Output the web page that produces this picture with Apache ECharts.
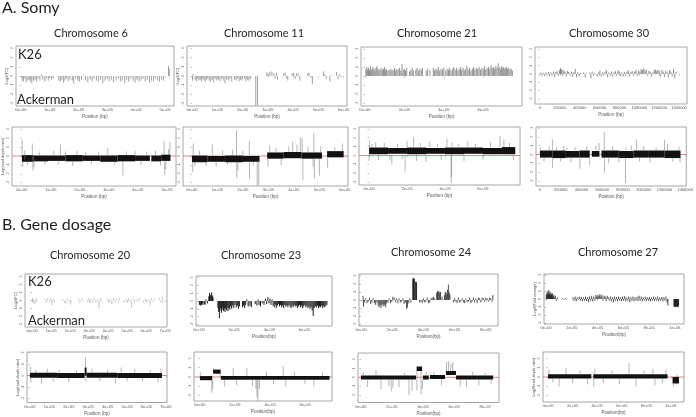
<!DOCTYPE html>
<html>
<head>
<meta charset="utf-8">
<script src="https://cdn.jsdelivr.net/npm/echarts@6/dist/echarts.min.js"></script>
<style>
html, body { margin: 0; padding: 0; background: #fff; }
#main { width: 696px; height: 417px; }
</style>
</head>
<body>
<div id="main"></div>
<script>

// ---- A. Somy : log2 fold change per gene ----
var chr6Fc = [[4,-0.5],[9,-0.6],[14,-0.3],[18,-0.7],[24,-0.5],[29,-0.4],[33,-0.6],[38,-0.8],[44,-0.5],[49,-0.4],[54,-0.6],[60,-0.3],[66,-0.5],[71,0.15],[76,-0.4],[83,-0.6],[88,-0.3],[95,-0.5],[100,-0.2],[106,-0.4],[112,-0.3],[131,-0.5],[137,-0.6],[142,-0.4],[148,-0.7],[153,-0.5],[158,-0.3],[164,-0.6],[170,-0.4],[178,-0.5],[183,-0.8],[190,-0.3],[197,-0.5],[203,-0.6],[210,-0.4],[218,0.1],[224,-0.5],[232,-0.7],[240,-0.4],[247,-0.6],[254,-0.3],[262,-0.5],[270,-0.6],[277,-0.4],[284,-0.8],[292,-0.5],[299,-0.3],[306,-0.6],[314,-0.4],[321,-0.7],[330,-0.5],[338,-0.3],[345,-0.6],[352,-0.5],[360,-0.8],[367,-0.4],[374,-0.6],[381,-0.3],[389,-0.5],[396,-0.7],[403,-0.4],[410,-0.6],[417,-0.5],[424,-0.3],[431,-0.6],[438,-0.4],[446,-0.7],[453,-0.5],[460,-0.6],[467,-0.3],[474,-0.5],[481,-0.6],[488,-0.4],[495,-0.5],[512,1.1],[515,0.8]];
var chr11Fc = [[2,-0.5],[4,0.2],[12,-0.4],[17,-0.6],[22,-0.3],[27,-0.5],[32,-0.4],[37,-0.6],[42,-0.3],[47,-0.5],[52,-0.6],[57,-0.4],[62,-0.3],[68,-0.5],[74,-0.6],[80,-0.4],[86,-0.7],[92,-0.3],[98,-0.5],[104,-0.4],[110,-0.6],[117,-0.3],[123,-0.5],[130,-0.8],[137,-0.4],[144,-0.5],[150,-0.3],[157,-0.6],[168,-0.4],[174,-0.5],[180,-0.3],[186,-0.6],[192,-0.4],[198,-0.5],[208,-0.3],[213,-0.6],[219,-0.4],[225,-0.5],[231,-0.3],[252,-3.2],[259,-3.2],[296,0.4],[301,0.3],[308,0.45],[316,0.5],[324,0.3],[329,-0.3],[334,0.35],[338,-0.4],[363,0.3],[368,0.4],[374,-0.3],[379,-0.5],[396,0.3],[402,0.35],[408,-0.3],[414,0.3],[420,0.25],[426,-0.5],[458,0.3],[463,0.35],[470,-0.2],[476,-0.9],[520,0.5],[526,0.2],[531,-0.3],[545,-0.6],[552,0.1],[572,0.45],[578,-0.3],[584,0.2],[590,-0.1]];
var chr21Fc = [[5,0.8],[9,1.0],[14,0.7],[18,0.9],[23,0.6],[27,1.1],[32,0.8],[36,0.7],[41,1.0],[46,0.8],[51,0.6],[56,0.9],[61,1.1],[66,0.7],[71,0.8],[77,0.6],[82,0.9],[88,0.7],[94,0.8],[99,1.0],[105,0.7],[110,0.8],[117,0.6],[123,0.7],[131,0.8],[137,0.6],[143,0.7],[150,0.9],[156,0.6],[162,0.8],[168,0.7],[175,0.9],[182,0.6],[188,1.3],[194,0.7],[200,0.8],[206,0.6],[212,0.9],[226,0.5],[233,0.7],[240,0.9],[246,0.6],[258,0.7],[264,0.9],[271,0.6],[278,0.8],[286,0.7],[292,0.9],[311,0.6],[318,0.8],[330,0.7],[347,0.9],[353,0.6],[360,0.8],[366,0.7],[372,1.0],[379,0.6],[386,0.8],[393,0.7],[400,0.9],[410,0.6],[417,0.8],[424,0.7],[430,0.9],[437,0.6],[444,0.8],[451,1.0],[458,0.7],[465,0.9],[472,0.6],[478,0.8],[485,1.0],[491,0.7],[498,0.9],[504,0.6],[511,0.8],[518,1.1],[524,0.7],[531,0.9],[538,0.6],[545,0.8],[551,1.0],[558,0.7],[565,0.9],[572,0.8],[579,1.0],[586,0.7],[593,0.9],[600,0.8],[607,1.1],[613,0.7],[620,0.9],[627,1.0],[633,0.8],[640,1.2],[646,0.9],[652,1.0],[658,0.8],[664,1.1],[670,0.9],[676,1.4],[681,1.0],[687,0.8],[692,1.1],[697,0.9],[702,1.0],[707,0.8],[712,0.9],[718,1.0],[724,0.8],[730,0.9],[736,0.7],[742,0.8],[748,0.6]];
var chr30Fc = [[10,0.2],[22,-0.2],[35,0.15],[48,-0.25],[60,0.2],[72,-0.15],[85,0.25],[97,-0.3],[110,0.2],[122,-0.2],[135,0.3],[148,-0.4],[160,0.25],[172,0.35],[185,-0.2],[198,0.5],[206,0.7],[214,0.6],[222,0.5],[230,-0.2],[240,0.45],[252,0.3],[265,-0.3],[278,0.4],[290,0.25],[303,-0.2],[316,0.3],[329,-0.35],[342,0.2],[355,0.6],[368,-0.4],[381,0.2],[394,-0.25],[407,0.15],[440,0.2],[455,-0.4],[470,0.1],[500,0.2],[512,-0.5],[525,0.3],[538,-0.2],[551,0.15],[575,-0.3],[590,0.2],[603,0.4],[616,-0.3],[629,0.2],[642,-0.2],[655,0.25],[668,0.5],[681,-0.4],[694,0.2],[707,-0.2],[720,0.3],[733,-0.3],[746,0.2],[759,0.35],[772,-0.2],[785,0.45],[798,0.3],[811,-0.25],[824,0.2],[837,-0.3],[850,0.25],[863,-0.2],[876,0.3],[889,0.45],[902,-0.3],[915,0.2],[928,0.35],[941,-0.2],[954,0.3],[967,0.5],[980,-0.25],[993,0.4],[1006,0.3],[1019,0.6],[1032,0.5],[1045,0.7],[1058,0.4],[1071,0.55],[1084,-0.2],[1097,0.4],[1110,0.3],[1123,-0.3],[1136,0.2],[1149,0.45],[1162,0.55],[1175,0.35],[1188,0.5],[1201,0.4],[1214,-0.3],[1227,0.5],[1240,0.3],[1253,-0.35],[1266,0.4],[1279,0.2],[1292,-0.4],[1305,0.5],[1318,0.3],[1331,-0.3],[1344,0.6],[1357,-0.5],[1370,0.3]];

// ---- A. Somy : read depth ratio, [start, end, low, high] blocks and [pos, from, to] spikes ----
var chr6Blocks = [[0,40,-0.65,0.1],[40,90,-0.6,0.05],[90,150,-0.55,0.05],[150,210,-0.6,0.1],[210,270,-0.55,0.05],[270,330,-0.65,0.05],[330,390,-0.6,0.1],[390,441,-0.55,0.05],[446,480,-0.6,0.05],[480,512,-0.55,0.15]];
var chr6Spikes = [[1,0,1.8],[3,-0.6,-1.2],[10,-0.5,0.6],[20,-0.6,-1.0],[36,-0.5,1.4],[38,-0.6,-1.6],[42,-0.6,-1.3],[60,0.1,0.5],[80,-0.6,-1.0],[110,0.1,0.6],[125,-0.6,-1.0],[133,0.1,1.3],[150,0.1,0.5],[175,-0.6,-1.1],[190,0.1,0.6],[220,0.1,0.4],[240,-0.6,-0.9],[265,0.1,0.5],[296,0.1,0.9],[320,-0.6,-1.0],[348,-0.6,-2.2],[360,0.1,0.5],[390,0.1,0.6],[410,-0.6,-1.0],[430,0.1,0.5],[460,0.1,0.6],[478,-0.6,-1.1],[490,0.1,1.7],[492,-0.6,-2.1],[496,-0.6,-1.5],[505,0.1,0.8],[510,0.1,1.6]];
var chr11Blocks = [[0,60,-0.7,0.05],[60,130,-0.65,0.0],[130,200,-0.7,0.05],[200,265,-0.65,0.0],[295,360,-0.3,0.4],[360,430,-0.25,0.45],[430,510,-0.3,0.4],[530,595,-0.15,0.55]];
var chr11Spikes = [[3,-0.7,-1.8],[5,0.1,1.4],[12,-0.7,-1.2],[30,0.1,0.6],[55,-0.7,-1.1],[80,0.1,1.3],[95,-0.7,-1.2],[120,0.1,0.6],[140,-0.7,-1.0],[160,0.1,0.7],[175,0.1,2.9],[176,-0.7,-2.5],[180,-0.7,-1.6],[200,0.1,0.6],[225,0.1,1.7],[226,-0.7,-2.6],[240,-0.7,-1.1],[256,-0.5,-3.3],[262,-0.5,-3.3],[298,-0.35,-1.2],[305,0.45,1.2],[330,0.45,0.9],[350,-0.35,-1.0],[380,0.45,1.1],[395,0.45,1.6],[412,0.45,1.3],[425,0.5,2.1],[432,0.45,2.0],[435,-0.35,-2.7],[455,0.45,1.0],[475,-0.35,-1.2],[478,0.45,2.6],[480,-0.35,-2.6],[500,-0.35,-2.2],[505,0.45,1.1],[532,-0.2,-1.3],[560,0.6,1.0],[590,0.6,1.4]];
var chr21Blocks = [[0,100,0.15,0.9],[100,200,0.2,0.85],[200,300,0.15,0.9],[300,400,0.2,0.85],[400,500,0.15,0.9],[500,600,0.2,0.9],[600,700,0.15,0.85],[700,770,0.15,0.95]];
var chr21Spikes = [[0,0.1,-0.6],[2,0.95,1.7],[15,0.95,1.3],[35,0.95,1.5],[50,0.1,-0.5],[80,0.95,1.4],[110,0.1,-0.5],[120,0.1,-1.0],[150,0.95,1.3],[175,0.1,-0.4],[190,0.1,-1.8],[200,0.95,1.6],[235,0.95,2.1],[250,0.1,-0.6],[270,0.95,1.4],[300,0.1,-0.7],[320,0.95,1.6],[360,0.95,1.3],[380,0.1,-0.5],[410,0.95,1.9],[432,0.1,-3.1],[434,0.1,-2.4],[436,0.95,1.5],[470,0.95,1.3],[500,0.1,-0.6],[520,0.95,1.6],[560,0.95,1.3],[600,0.1,-0.5],[640,0.95,1.5],[690,0.95,2.2],[710,0.95,1.8],[740,0.95,1.4],[760,0.1,-0.5]];
var chr30Blocks = [[0,120,-0.35,0.45],[120,250,-0.4,0.45],[250,380,-0.35,0.4],[380,480,-0.35,0.45],[500,573,-0.25,0.4],[593,760,-0.35,0.45],[760,900,-0.4,0.4],[900,1050,-0.35,0.45],[1050,1200,-0.35,0.45],[1200,1355,-0.4,0.45]];
var chr30Spikes = [[5,0.5,0.8],[40,-0.4,-0.8],[90,0.5,0.9],[120,0.5,1.7],[122,-0.4,-1.5],[160,0.5,0.8],[200,-0.4,-0.8],[230,0.5,1.0],[260,0.5,0.8],[300,-0.4,-0.9],[340,0.5,0.8],[385,-0.4,-1.6],[450,0.5,0.9],[480,-0.4,-1.2],[540,0.5,1.0],[570,0.5,1.3],[620,0.5,2.5],[622,-0.4,-2.1],[660,-0.4,-1.0],[700,0.5,0.9],[760,-0.4,-0.9],[824,-0.4,-3.2],[830,0.5,0.8],[880,0.5,1.0],[930,0.5,1.7],[960,-0.4,-0.8],[1000,0.5,0.9],[1060,-0.4,-0.9],[1120,0.5,0.8],[1200,0.5,1.6],[1230,0.5,1.2],[1280,-0.4,-0.8],[1340,0.5,0.9],[1350,-0.4,-0.9]];

// ---- B. Gene dosage : log2 fold change per gene ----
var chr20Fc = [[2,0.3],[6,-0.3],[10,0.2],[15,-0.5],[22,0.3],[26,-0.2],[70,0.2],[76,-0.3],[82,0.3],[90,-0.2],[98,0.25],[105,-0.6],[112,0.2],[118,-0.3],[162,0.2],[170,-0.3],[178,-0.4],[186,0.25],[195,-0.2],[204,-0.5],[245,0.2],[252,-0.3],[262,0.3],[292,-0.2],[298,0.25],[305,-0.35],[312,0.2],[320,-0.3],[328,0.3],[336,-0.25],[344,0.2],[352,-1.0],[360,0.3],[368,-0.2],[398,0.25],[405,-0.3],[412,0.2],[420,-0.5],[428,0.3],[436,-0.2],[444,0.2],[452,-0.35],[460,0.25],[484,-0.3],[492,0.2],[500,-0.25],[508,0.3],[516,-0.2],[524,-0.9],[532,0.25],[540,-0.3],[548,0.2],[556,-0.2],[564,0.3],[588,-0.3],[596,0.25],[604,-0.2],[612,0.2],[620,-0.6],[628,0.3],[636,-0.2],[644,0.25],[668,0.3],[676,-0.25],[684,0.5],[688,-0.3]];
var chr23Fc = [[2,-0.5],[6,-0.4],[10,-0.6],[14,-0.5],[18,-0.3],[22,-0.5],[30,-0.4],[35,-0.5],[40,0.2],[48,-0.3],[56,0.6],[60,1.0],[64,0.8],[68,0.6],[72,1.1],[76,0.7],[80,0.5],[108,-0.9],[112,-1.4],[116,-2.2],[120,-1.2],[124,-0.9],[128,-1.5],[132,-1.1],[136,-0.8],[140,-1.3],[144,-1.0],[148,-1.4],[152,-0.9],[156,-1.2],[160,-0.8],[165,-1.3],[170,-0.9],[175,-1.1],[180,-0.7],[186,-1.0],[192,-0.6],[198,-0.9],[205,-0.5],[212,-0.8],[218,-0.6],[224,-1.0],[230,-0.7],[248,-0.8],[254,-0.6],[260,-0.9],[266,-0.5],[272,0.2],[280,-0.7],[290,-0.6],[298,-0.8],[320,-0.4],[330,-0.6],[336,0.2],[342,-0.5],[350,-0.7],[360,-0.3],[370,-0.5],[378,0.3],[385,-0.4],[392,0.5],[398,-0.3],[404,0.3],[410,-0.5],[416,0.2],[422,-0.6],[428,-0.8],[434,-0.5],[440,-0.9],[446,-0.6],[452,-0.4],[458,-0.7],[464,-0.5],[470,-0.8],[476,-0.6],[482,-0.9],[488,-0.5],[494,-0.7],[500,-0.6],[506,-0.8],[512,-0.5],[518,-0.7],[524,-0.9],[530,-0.6],[536,-0.8],[542,-0.5],[548,-0.7],[554,-0.6],[560,-0.9],[566,-0.7],[572,-0.5],[578,-0.8],[584,-0.6],[590,-0.9],[596,-0.7],[602,-0.5],[608,-0.8],[614,-0.6],[620,-0.9],[626,-0.7],[632,-1.0],[638,-0.8],[644,-1.2],[650,-1.9],[656,-0.9],[662,-0.7],[668,-0.8],[674,-0.6],[680,-0.9],[686,-0.7],[692,-0.8],[698,-0.6],[704,-0.9],[710,-0.7],[716,-0.8],[722,-0.6],[728,-0.5]];
var chr24Fc = [[13,0.5],[16,-0.8],[22,-0.3],[30,0.2],[38,-0.4],[46,-0.2],[54,0.3],[62,-0.5],[70,-0.3],[78,0.2],[86,-0.4],[94,-0.6],[102,-0.3],[110,-0.7],[116,-0.9],[122,-0.6],[128,-1.0],[134,-0.7],[140,-0.5],[146,-0.8],[152,-0.6],[158,-0.9],[164,-0.4],[172,-0.3],[180,0.2],[188,-0.4],[196,-0.2],[204,0.4],[212,0.3],[220,-0.3],[228,0.2],[236,-0.4],[244,0.2],[252,-0.3],[260,-0.2],[268,0.2],[276,-0.5],[284,-0.3],[292,-1.1],[298,-0.9],[306,-0.4],[312,0.2],[320,-0.3],[332,2.6],[334,2.7],[336,2.6],[338,2.5],[340,2.7],[342,2.6],[350,2.2],[352,2.3],[354,2.2],[356,2.1],[376,-0.3],[384,-0.2],[392,-0.4],[400,0.2],[408,-0.3],[416,-0.2],[424,0.3],[432,-0.4],[440,-0.3],[448,0.2],[456,0.3],[464,0.4],[472,0.2],[485,0.9],[490,1.1],[495,1.0],[500,1.1],[505,0.9],[510,1.0],[520,0.4],[535,0.6],[540,1.0],[545,0.9],[550,0.8],[555,1.3],[560,1.9],[565,1.0],[570,0.7],[592,-0.3],[600,0.2],[608,-0.2],[616,-0.4],[624,0.3],[632,-0.3],[640,-0.2],[648,0.2],[656,-0.3],[664,-0.4],[672,0.2],[680,-0.3],[688,-0.2],[696,0.3],[704,-0.4],[712,-0.2],[720,0.3],[728,-0.3],[736,0.2],[744,-0.4],[752,0.3],[760,0.2],[768,-0.3],[776,0.3],[784,0.2],[792,-0.2],[800,0.3],[808,0.2],[816,-0.2],[824,0.3],[832,0.2],[840,-0.2],[845,0.6]];
var chr27Fc = [[2,0.5],[6,0.8],[10,0.6],[14,1.0],[18,0.7],[22,1.1],[26,0.6],[30,0.9],[34,0.5],[38,0.8],[42,0.6],[46,0.4],[50,0.7],[55,0.3],[60,0.5],[66,0.2],[72,0.4],[80,-0.2],[90,0.2],[130,0.1],[140,-0.1],[150,0.1],[160,-0.1],[210,0.2],[218,-0.2],[226,0.3],[234,-0.3],[242,0.2],[250,-0.1],[258,0.3],[266,-0.2],[274,0.25],[282,-0.3],[290,0.2],[298,-0.2],[306,0.3],[314,-0.25],[322,0.2],[330,-0.4],[338,0.3],[346,-0.2],[354,0.4],[362,-0.3],[370,0.3],[378,-0.2],[386,0.5],[394,0.3],[402,0.5],[410,0.4],[418,0.6],[426,0.3],[434,0.5],[442,-0.2],[450,0.4],[458,0.3],[466,-0.3],[474,0.4],[482,0.2],[490,-0.2],[498,0.3],[506,-0.3],[514,0.2],[522,-0.4],[530,0.3],[538,-0.2],[546,0.25],[554,-0.3],[562,0.3],[570,-0.2],[578,0.2],[586,-0.25],[594,0.3],[602,-0.2],[610,0.35],[618,-0.3],[626,0.2],[634,-0.2],[642,0.3],[650,-0.4],[658,0.2],[666,-0.2],[674,0.3],[682,-0.3],[690,0.2],[698,-0.2],[706,0.3],[714,-0.25],[722,0.4],[730,-0.2],[738,0.3],[746,-0.3],[754,0.2],[762,-0.2],[770,0.3],[778,-0.3],[786,0.2],[794,-0.2],[802,0.25],[810,-0.3],[818,0.2],[826,-0.2],[834,0.3],[842,-0.25],[850,0.2],[858,-0.2],[866,0.3],[874,-0.3],[882,0.2],[890,-0.2],[898,0.25],[906,-0.3],[914,0.2],[922,-0.2],[930,0.3],[938,-0.4],[945,-0.8],[992,-0.9],[995,-1.0],[998,-0.8],[1001,-1.0],[1004,-0.9],[1007,-1.0],[1010,-0.8],[1013,-1.0],[1016,-0.9],[1019,-1.0],[1022,-0.9],[1025,-1.0],[1028,-0.8]];

// ---- B. Gene dosage : read depth ratio ----
var chr20Blocks = [[0,140,-0.2,0.25],[140,282,-0.22,0.22],[282,292,0.0,0.7],[292,450,-0.2,0.25],[450,680,-0.22,0.22]];
var chr20Spikes = [[2,0.25,0.8],[5,-0.2,-0.6],[30,0.25,0.5],[60,-0.2,-0.7],[90,0.25,0.6],[120,-0.2,-0.5],[150,0.25,0.5],[200,-0.2,-0.6],[240,0.25,0.5],[286,0.7,1.55],[288,0.0,-0.6],[320,0.25,0.6],[360,-0.2,-0.5],[400,0.25,0.5],[440,-0.2,-0.7],[470,0.25,0.7],[500,-0.2,-0.5],[540,0.25,0.6],[580,-0.2,-0.5],[620,0.25,0.5],[660,-0.2,-0.6],[675,0.25,0.6]];
var chr23Blocks = [[0,70,-0.35,0.1],[75,118,0.35,0.8],[120,740,-0.3,0.1]];
var chr23Spikes = [[2,0.1,0.5],[68,-0.35,-1.7],[73,-0.3,-1.3],[78,0.8,1.0],[116,0.35,-0.2],[140,-0.3,-1.0],[190,0.1,1.0],[210,-0.3,-0.9],[268,0.1,1.0],[300,-0.3,-1.0],[320,-0.3,-1.3],[326,-0.3,-2.2],[331,-0.3,-2.7],[340,-0.3,-1.3],[380,0.1,0.6],[420,-0.3,-0.8],[475,0.1,1.2],[490,-0.3,-1.0],[540,0.1,0.5],[600,-0.3,-0.8],[650,-0.3,-1.0],[700,0.1,0.5]];
var chr24Blocks = [[0,355,-0.25,0.2],[359,394,0.7,1.2],[400,437,-0.25,0.2],[445,542,-0.2,0.25],[548,613,0.25,0.7],[613,852,-0.25,0.2]];
var chr24Spikes = [[15,0.2,0.6],[43,-0.25,-1.1],[97,0.2,0.8],[129,-0.25,-1.3],[180,-0.25,-1.0],[195,-0.25,-1.6],[206,-0.25,-1.2],[245,-0.25,-1.1],[280,0.2,0.5],[310,-0.25,-2.0],[329,-0.25,-1.5],[361,0.7,-1.5],[387,0.7,-1.9],[396,-0.25,-1.3],[420,0.2,0.6],[470,0.25,0.6],[520,-0.2,-0.9],[552,0.7,1.7],[565,0.7,1.8],[580,0.7,1.5],[592,0.7,1.7],[640,-0.25,-1.0],[680,-0.25,-1.1],[720,0.2,0.6],[760,-0.25,-0.9],[800,0.2,0.5],[840,-0.25,-0.7]];
var chr27Blocks = [[0,352,-0.15,0.3],[368,972,-0.15,0.3],[1013,1065,-0.7,0.0]];
var chr27Spikes = [[8,0.3,0.8],[40,-0.15,-0.6],[90,-0.15,-1.0],[146,0.3,1.0],[200,-0.15,-0.7],[260,0.3,0.7],[320,-0.15,-0.8],[372,-0.15,-1.1],[380,0.3,0.9],[450,-0.15,-0.7],[520,0.3,0.7],[580,-0.15,-0.8],[659,0.3,1.5],[715,-0.15,-1.0],[780,0.3,0.7],[853,0.3,0.9],[870,-0.15,-0.9],[930,-0.15,-0.7],[960,0.3,0.8],[1020,-0.7,-1.1],[1050,0.0,0.3]];

// ---- tick values (kb) and labels ----
var ticks6 = [0,100,200,300,400,500];
var labels6 = ['0e+00','1e+05','2e+05','3e+05','4e+05','5e+05'];
var ticks11 = [0,100,200,300,400,500,600];
var labels11 = ['0e+00','1e+05','2e+05','3e+05','4e+05','5e+05','6e+05'];
var ticks21 = [0,200,400,600];
var labels21 = ['0e+00','2e+05','4e+05','6e+05'];
var ticks30 = [0,200,400,600,800,1000,1200,1400];
var labels30 = ['0','200000','400000','600000','800000','1000000','1200000','1400000'];
var ticks20 = [0,100,200,300,400,500,600,700];
var labels20 = ['0e+00','1e+05','2e+05','3e+05','4e+05','5e+05','6e+05','7e+05'];
var ticks23 = [0,200,400,600];
var labels23 = ['0e+00','2e+05','4e+05','6e+05'];
var ticks24 = [0,200,400,600,800];
var labels24 = ['0e+00','2e+05','4e+05','6e+05','8e+05'];
var ticks27 = [0,200,400,600,800,1000];
var labels27 = ['0e+00','2e+05','4e+05','6e+05','8e+05','1e+06'];
var yTicksFc = [-3,-2,-1,0,1,2,3];
var yTicksDepthA = [-3,-2,-1,0,1,2,3];
var yTicksDepthB = [-2,-1,0,1,2];

var FONT = 'Lato, "Open Sans", sans-serif';

var panels = [
  // A. Somy, fold change row
  {box:[16,46,158,60], x:[-17,531], y:[-3.25,3.25], xt:ticks6, xl:labels6, yt:yTicksFc, xname:'Position (bp)', yname:'Log2(FC)', fc:chr6Fc, color:'#8a8a8a', lw:0.8},
  {box:[187,46,160,60], x:[-20,613], y:[-3.25,3.25], xt:ticks11, xl:labels11, yt:yTicksFc, xname:'Position (bp)', yname:'Log2(FC)', fc:chr11Fc, color:'#8a8a8a', lw:0.8},
  {box:[361,47,161,59], x:[-20,797], y:[-3.3,3.2], xt:ticks21, xl:labels21, yt:yTicksFc, xname:'Position (bp)', yname:'', fc:chr21Fc, color:'#757575', lw:0.8},
  {box:[535,47,152,57], x:[-50,1480], y:[-3.6,3.25], xt:ticks30, xl:labels30, yt:yTicksFc, xname:'Position (bp)', yname:'', fc:chr30Fc, color:'#5a5a5a', lw:0.7},
  // A. Somy, read depth row
  {box:[12,127,164,59], x:[-34,531], y:[-3.37,3.26], xt:ticks6, xl:labels6, yt:yTicksDepthA, xname:'Position (bp)', yname:'Log(read depth ratio)', blocks:chr6Blocks, spikes:chr6Spikes},
  {box:[183,127,165,59], x:[-35,612], y:[-3.37,3.26], xt:ticks11, xl:labels11, yt:yTicksDepthA, xname:'Position (bp)', yname:'', blocks:chr11Blocks, spikes:chr11Spikes},
  {box:[359,127,161,58], x:[-53,795], y:[-3.3,3.2], xt:ticks21, xl:labels21, yt:yTicksDepthA, xname:'Position (bp)', yname:'', blocks:chr21Blocks, spikes:chr21Spikes},
  {box:[536,127,153,59], x:[-38,1410], y:[-3.55,3.1], xt:ticks30, xl:labels30, yt:yTicksDepthA, xname:'Position (bp)', yname:'', blocks:chr30Blocks, spikes:chr30Spikes},
  // B. Gene dosage, fold change row
  {box:[25,274,142,53], x:[-37,710], y:[-3.3,3.3], xt:ticks20, xl:labels20, yt:yTicksFc, xname:'Position (bp)', yname:'Log2(FC)', fc:chr20Fc, color:'#ababab', lw:0.7},
  {box:[196,276,136,50], x:[-17,757], y:[-3.2,3.2], xt:ticks23, xl:labels23, yt:yTicksFc, xname:'Position(bp)', yname:'', fc:chr23Fc, color:'#1a1a1a', lw:1.0},
  {box:[359,274,139,52], x:[-13,878], y:[-3.2,3.2], xt:ticks24, xl:labels24, yt:yTicksFc, xname:'Position(bp)', yname:'', fc:chr24Fc, color:'#222', lw:0.8},
  {box:[544,274,140,50], x:[-16,1070], y:[-3.1,3.1], xt:ticks27, xl:labels27, yt:yTicksFc, xname:'Position(bp)', yname:'Log2(Fold change)', fc:chr27Fc, color:'#1a1a1a', lw:0.8},
  // B. Gene dosage, read depth row
  {box:[27,352,140,51], x:[-15,706], y:[-2.35,2.05], xt:ticks20, xl:labels20, yt:yTicksDepthB, xname:'Position (bp)', yname:'Log(read depth ratio)', blocks:chr20Blocks, spikes:chr20Spikes},
  {box:[194,352,138,49], x:[-34,754], y:[-2.6,2.7], xt:ticks23, xl:labels23, yt:yTicksDepthB, xname:'Position(bp)', yname:'', blocks:chr23Blocks, spikes:chr23Spikes},
  {box:[358,353,141,51], x:[-19,890], y:[-2.8,2.7], xt:ticks24, xl:labels24, yt:yTicksDepthB, xname:'Position(bp)', yname:'', blocks:chr24Blocks, spikes:chr24Spikes},
  {box:[543,352,141,50], x:[-41,1106], y:[-2.7,2.7], xt:ticks27, xl:labels27, yt:yTicksDepthB, xname:'Position(bp)', yname:'Log(Read depth ratio)', blocks:chr27Blocks, spikes:chr27Spikes}
];

function fcRenderer(color, lw) {
  return function (params, api) {
    var a = api.coord([api.value(0), 0]);
    var b = api.coord([api.value(0), api.value(1)]);
    return {type: 'line', shape: {x1: a[0], y1: a[1], x2: b[0], y2: b[1]}, style: {stroke: color, lineWidth: lw}};
  };
}
function blockRenderer(params, api) {
  var a = api.coord([api.value(0), api.value(3)]);
  var b = api.coord([api.value(1), api.value(2)]);
  return {type: 'rect', shape: {x: a[0], y: a[1], width: Math.max(b[0] - a[0], 1), height: b[1] - a[1]},
    style: {fill: '#111'}};
}
function spikeRenderer(params, api) {
  var a = api.coord([api.value(0), api.value(1)]);
  var b = api.coord([api.value(0), api.value(2)]);
  return {type: 'line', shape: {x1: a[0], y1: a[1], x2: b[0], y2: b[1]}, style: {stroke: '#6a6a6a', lineWidth: 0.5}};
}

var grids = [], xAxes = [], yAxes = [], series = [];
panels.forEach(function (p, i) {
  grids.push({left: p.box[0], top: p.box[1], width: p.box[2], height: p.box[3], show: true,
    borderColor: '#8f8f8f', borderWidth: 0.8, backgroundColor: 'transparent'});
  xAxes.push({type: 'value', gridIndex: i, min: p.x[0], max: p.x[1],
    axisLine: {show: false}, splitLine: {show: false},
    axisTick: {show: true, customValues: p.xt, length: 1.5, lineStyle: {color: '#777', width: 0.5}},
    axisLabel: {show: true, customValues: p.xt, fontSize: 4, color: '#555', margin: 2, fontFamily: 'Arial',
      formatter: (function (t, l) { return function (v) { var k = t.indexOf(v); return k >= 0 ? l[k] : ''; }; })(p.xt, p.xl)},
    name: p.xname, nameLocation: 'middle', nameGap: 8.5, nameTextStyle: {fontSize: 4.5, color: '#555', fontFamily: 'Arial'}});
  yAxes.push({type: 'value', gridIndex: i, min: p.y[0], max: p.y[1],
    axisLine: {show: false}, splitLine: {show: false},
    axisTick: {show: true, customValues: p.yt, length: 1.5, lineStyle: {color: '#777', width: 0.5}},
    axisLabel: {show: true, customValues: p.yt, fontSize: 3.5, color: '#666', margin: 2, rotate: 90, fontFamily: 'Arial'},
    name: p.yname, nameLocation: 'middle', nameGap: 7, nameRotate: 90,
    nameTextStyle: {fontSize: 4, color: '#555', fontFamily: 'Arial'}});
  if (p.fc) {
    series.push({type: 'custom', xAxisIndex: i, yAxisIndex: i, clip: true, silent: true,
      renderItem: fcRenderer(p.color, p.lw), data: p.fc});
  } else {
    series.push({type: 'line', xAxisIndex: i, yAxisIndex: i, z: 1, silent: true, symbol: 'none',
      lineStyle: {color: '#e06666', width: 0.8}, data: [[p.x[0], 0], [p.x[1], 0]]});
    series.push({type: 'custom', xAxisIndex: i, yAxisIndex: i, z: 3, clip: true, silent: true,
      renderItem: spikeRenderer, data: p.spikes});
    series.push({type: 'custom', xAxisIndex: i, yAxisIndex: i, z: 2, clip: true, silent: true,
      renderItem: blockRenderer, data: p.blocks});
  }
});

function txt(s, x, y, size, align) {
  return {type: 'text', x: x, y: y, silent: true,
    style: {text: s, fontSize: size, fontFamily: FONT, fill: '#1f1f1f',
      align: align, textAlign: align, verticalAlign: 'middle', textVerticalAlign: 'middle'}};
}

var chart = echarts.init(document.getElementById('main'), null, {renderer: 'canvas'});
chart.setOption({
  animation: false,
  backgroundColor: '#fff',
  grid: grids,
  xAxis: xAxes,
  yAxis: yAxes,
  series: series,
  graphic: [
    txt('A. Somy', 2, 8, 16, 'left'),
    txt('Chromosome 6', 91, 33, 11, 'center'),
    txt('Chromosome 11', 264, 33, 11, 'center'),
    txt('Chromosome 21', 437, 33, 11, 'center'),
    txt('Chromosome 30', 609, 33, 11, 'center'),
    txt('K26', 18, 55, 13, 'left'),
    txt('Ackerman', 17, 100, 13, 'left'),
    txt('B. Gene dosage', 2, 225, 16, 'left'),
    txt('Chromosome 20', 90, 255, 11, 'center'),
    txt('Chromosome 23', 261, 255, 11, 'center'),
    txt('Chromosome 24', 431, 252, 11, 'center'),
    txt('Chromosome 27', 618, 252, 11, 'center'),
    txt('K26', 28, 282, 13, 'left'),
    txt('Ackerman', 28, 321, 13, 'left')
  ]
});
</script>
</body>
</html>
